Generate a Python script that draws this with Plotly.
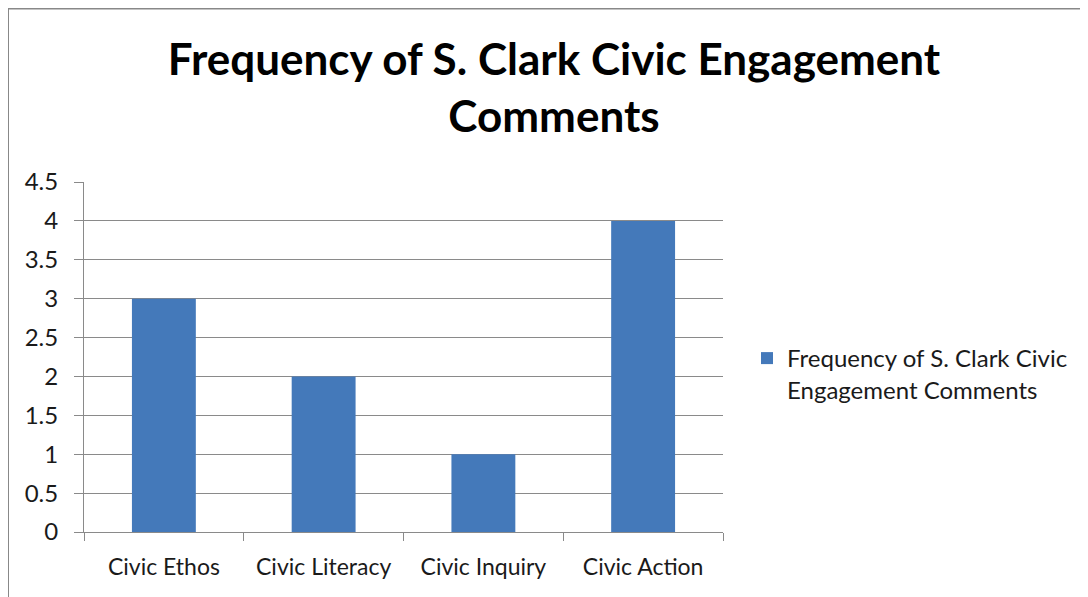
import plotly.graph_objects as go

categories = ["Civic Ethos", "Civic Literacy", "Civic Inquiry", "Civic Action"]
values = [3, 2, 1, 4]
series_name = "Frequency of S. Clark Civic<br>Engagement Comments"
title_text = "Frequency of S. Clark Civic Engagement<br>Comments"

FONT = "Lato, Calibri, sans-serif"
GRID = "#8a8a8a"

W, H = 1080, 589
L, R, T, B = 76, 365, 174, 65

fig = go.Figure()
fig.add_trace(go.Bar(
    x=categories, y=values, name=series_name,
    marker=dict(color="#4479BA", line=dict(width=0)),
    showlegend=True,
))

fig.update_layout(
    width=W, height=H,
    margin=dict(l=L, r=R, t=T, b=B),
    paper_bgcolor="white", plot_bgcolor="white",
    bargap=0.6,
    font=dict(family=FONT, color="#1a1a1a", size=23),
    title=dict(text=title_text, x=546/W, xanchor="center", xref="container",
               y=1 - 67/H, yanchor="middle", yref="container",
               font=dict(family=FONT, size=44, color="black", weight="bold")),
    xaxis=dict(showgrid=False, showline=True, linecolor=GRID, linewidth=1,
               ticks="outside", tickson="boundaries", ticklen=8, tickcolor=GRID,
               tickfont=dict(size=23), ticklabelstandoff=14, mirror=False),
    yaxis=dict(range=[0, 4.5], dtick=0.5, showgrid=True, gridcolor=GRID, gridwidth=1,
               showline=True, linecolor=GRID, linewidth=1, ticks="outside",
               ticklen=9, tickcolor=GRID, tickfont=dict(size=24),
               ticklabelstandoff=11, zeroline=False),
    legend=dict(x=739/W, xref="container", y=1 - 328/H, yref="container",
                xanchor="left", yanchor="top", font=dict(size=24), valign="top",
                bgcolor="rgba(0,0,0,0)"),
)

pw, ph = W - L - R, H - T - B
fig.add_shape(type="rect", xref="paper", yref="paper",
              x0=-L / pw, x1=(W + 50 - L) / pw,
              y0=-(B + 50) / ph, y1=1 + (T - 0.5) / ph,
              line=dict(color="#888888", width=2), fillcolor="rgba(0,0,0,0)", layer="below")

fig.write_html("out.html")
